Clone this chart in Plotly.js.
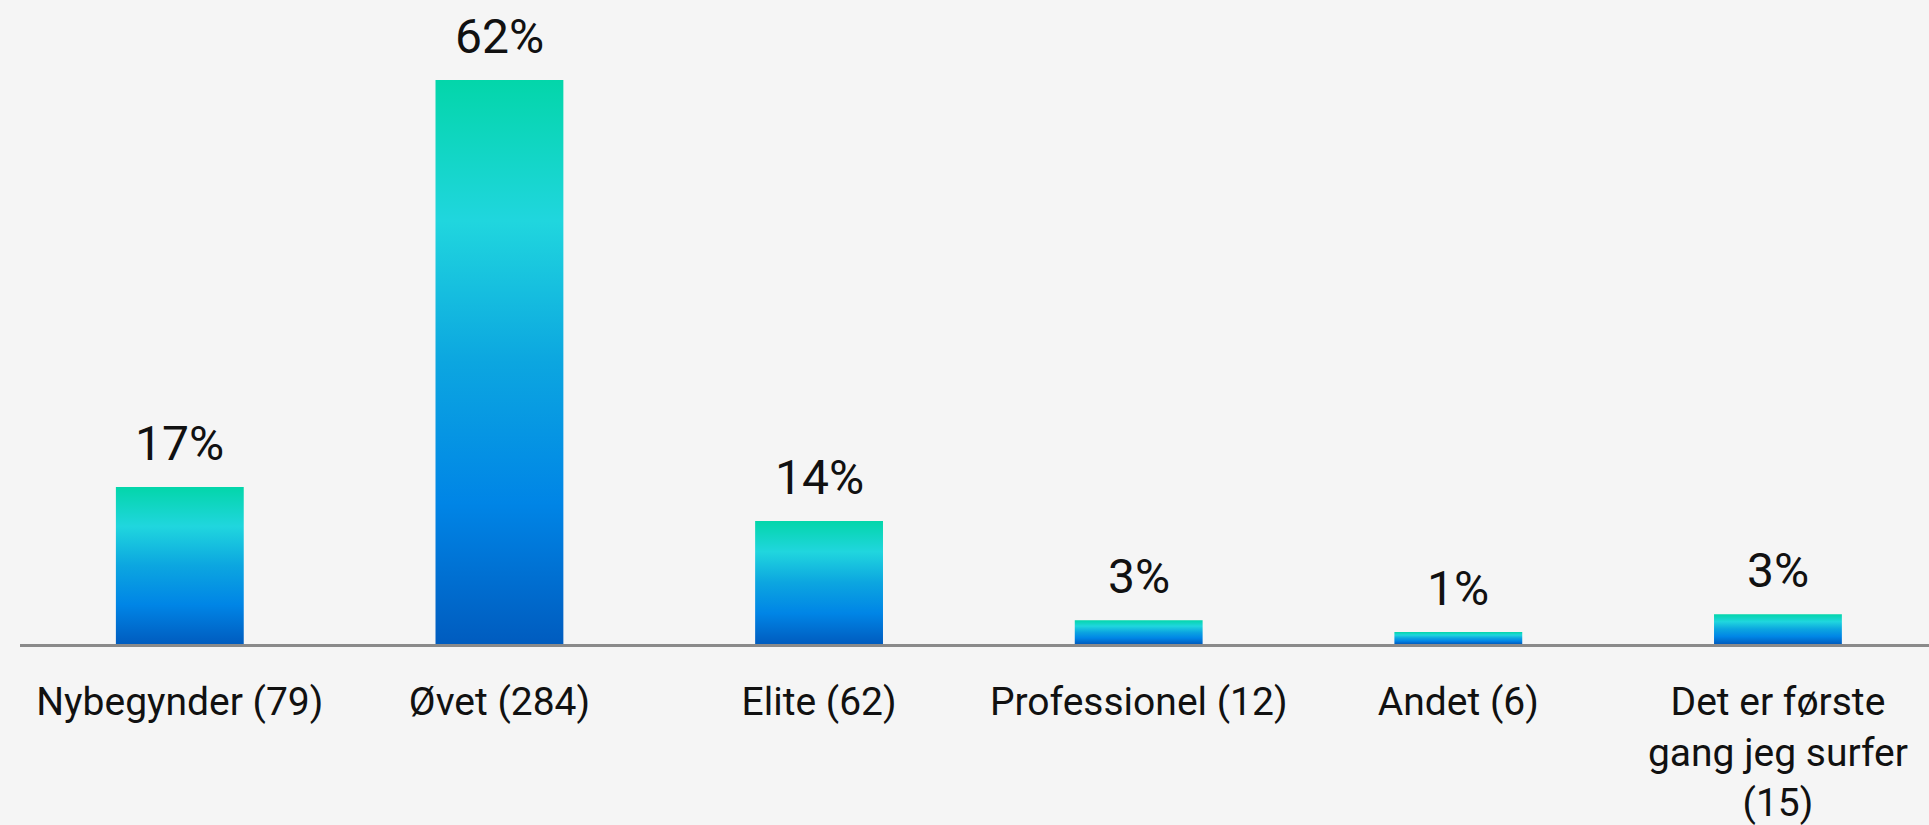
<!DOCTYPE html>
<html>
<head>
<meta charset="utf-8">
<script src="https://cdn.plot.ly/plotly-3.0.1.min.js"></script>
<style>
  html, body { margin: 0; padding: 0; background: #f5f5f5; }
  #chart { width: 1929px; height: 825px; }
</style>
</head>
<body>
<div id="chart"></div>
<script>
const categories = ["Nybegynder (79)", "Øvet (284)", "Elite (62)", "Professionel (12)", "Andet (6)", "Det er første<br>gang jeg surfer<br>(15)"];
const counts = [79, 284, 62, 12, 6, 15];
const pctLabels = ["17%", "62%", "14%", "3%", "1%", "3%"];

const barHalf = 0.2;
const gradientScale = [
  [0.0, "#005cbf"],
  [0.25, "#0085e6"],
  [0.5, "#0ca6e0"],
  [0.75, "#20d6de"],
  [1.0, "#03d6aa"]
];

const traces = counts.map((v, i) => ({
  type: "scatter",
  mode: "lines",
  x: [i - barHalf, i - barHalf, i + barHalf, i + barHalf, i - barHalf],
  y: [0, v, v, 0, 0],
  fill: "toself",
  line: { width: 0 },
  fillgradient: { type: "vertical", colorscale: gradientScale, start: 0, stop: v },
  hoverinfo: "skip",
  showlegend: false
}));

const annotations = counts.map((v, i) => ({
  x: i, y: v, xref: "x", yref: "y",
  text: pctLabels[i],
  showarrow: false,
  yanchor: "bottom",
  yshift: 13,
  font: { family: "Roboto, sans-serif", size: 48, color: "#111111" }
}));

const layout = {
  width: 1929,
  height: 825,
  margin: { l: 20, r: 0, t: 0, b: 181 },
  paper_bgcolor: "#f5f5f5",
  plot_bgcolor: "#f5f5f5",
  showlegend: false,
  xaxis: {
    range: [-0.5, 5.4726],
    tickmode: "array",
    tickvals: categories.map((c, i) => i),
    ticktext: categories,
    showgrid: false,
    zeroline: false,
    showline: true,
    linecolor: "#8a8a8a",
    linewidth: 3,
    ticks: "",
    ticklabelstandoff: 21,
    tickfont: { family: "Roboto, sans-serif", size: 39, color: "#111111" },
    fixedrange: true
  },
  yaxis: {
    range: [0, 324.3],
    visible: false,
    showgrid: false,
    zeroline: false,
    fixedrange: true
  },
  annotations: annotations
};

Plotly.newPlot("chart", traces, layout, { displayModeBar: false, staticPlot: true });
</script>
</body>
</html>
